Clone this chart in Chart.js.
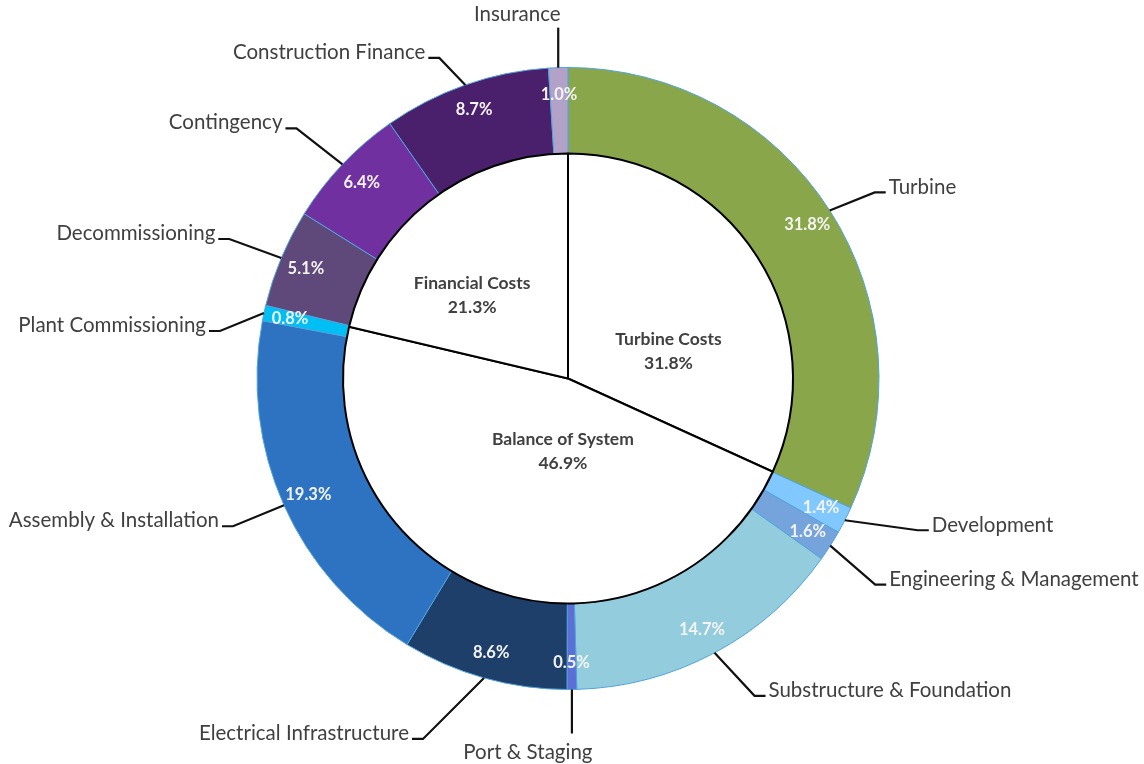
<!DOCTYPE html>
<html>
<head>
<meta charset="utf-8">
<script src="https://cdn.jsdelivr.net/npm/chart.js@4.4.0/dist/chart.umd.min.js"></script>
<style>
  html, body { margin: 0; padding: 0; background: #fff; }
  #wrap { width: 1144px; height: 764px; }
</style>
</head>
<body>
<div id="wrap"><canvas id="costChart"></canvas></div>
<script>
// outer ring: cost items (%)
const segLabels = ['Turbine', 'Development', 'Engineering & Management', 'Substructure & Foundation',
    'Port & Staging', 'Electrical Infrastructure', 'Assembly & Installation', 'Plant Commissioning',
    'Decommissioning', 'Contingency', 'Construction Finance', 'Insurance'];
const segValues = [31.8, 1.4, 1.6, 14.7, 0.5, 8.6, 19.3, 0.8, 5.1, 6.4, 8.7, 1.0];
const segColors = ['#8aa64a', '#80c8ff', '#75a3dc', '#93cddd', '#5b6fd6', '#1f3f6b',
    '#2e72c2', '#00bff5', '#5f497a', '#7030a0', '#4a1f6c', '#b3a2c7'];

// inner pie: cost groups (%)
const groupLabels = ['Turbine Costs', 'Balance of System', 'Financial Costs'];
const groupValues = [31.8, 46.9, 21.3];

// where each callout label sits relative to its slice edge (px)
const calloutOffsets = [
    {dx: 45, dy: -18, side: 'r'},
    {dx: 73, dy: 10, side: 'r'},
    {dx: 45, dy: 39, side: 'r'},
    {dx: 40, dy: 43, side: 'r'},
    {dx: 0, dy: 44, side: 'b', shift: -44},
    {dx: -61, dy: 61, side: 'l'},
    {dx: -51, dy: 21, side: 'l'},
    {dx: -44, dy: 18, side: 'l'},
    {dx: -52, dy: -19, side: 'l'},
    {dx: -46, dy: -36, side: 'l'},
    {dx: -26, dy: -27, side: 'l'},
    {dx: 0, dy: -40, side: 't', shift: -41}
];
// inner group label spots: [angle from top (deg), radius px]
const innerSpots = [[75, 104], [184, 73], [311, 127]];

const labelPlugin = {
    id: 'costLabels',
    afterDatasetsDraw(chart) {
        const ctx = chart.ctx;
        const ring = chart.getDatasetMeta(0).data;
        const pie = chart.getDatasetMeta(1).data;
        ctx.save();

        // percentages inside the ring
        ctx.font = 'bold 16.5px Lato';
        ctx.fillStyle = '#f4f4f4';
        ctx.textAlign = 'center';
        ctx.textBaseline = 'middle';
        ring.forEach((arc, i) => {
            const p = arc.getProps(['x', 'y', 'startAngle', 'endAngle', 'innerRadius', 'outerRadius'], true);
            const mid = (p.startAngle + p.endAngle) / 2;
            const r = p.innerRadius + 0.69 * (p.outerRadius - p.innerRadius);
            ctx.fillText(segValues[i].toFixed(1) + '%', p.x + Math.cos(mid) * r, p.y + Math.sin(mid) * r);
        });

        // callouts
        ctx.font = '20.5px Lato';
        ctx.fillStyle = '#404040';
        ctx.strokeStyle = '#111';
        ctx.lineWidth = 2.2;
        ring.forEach((arc, i) => {
            const p = arc.getProps(['x', 'y', 'startAngle', 'endAngle', 'outerRadius'], true);
            const mid = (p.startAngle + p.endAngle) / 2;
            const ax = p.x + Math.cos(mid) * p.outerRadius;
            const ay = p.y + Math.sin(mid) * p.outerRadius;
            const c = calloutOffsets[i];
            const ex = ax + c.dx, ey = ay + c.dy;
            ctx.beginPath();
            ctx.moveTo(ax, ay);
            ctx.lineTo(ex, ey);
            if (c.side === 'r') {
                ctx.lineTo(ex + 11, ey);
                ctx.stroke();
                ctx.textAlign = 'left';
                ctx.fillText(segLabels[i], ex + 14, ey - 5);
            } else if (c.side === 'l') {
                ctx.lineTo(ex - 11, ey);
                ctx.stroke();
                ctx.textAlign = 'right';
                ctx.fillText(segLabels[i], ex - 14, ey - 6);
            } else if (c.side === 't') {
                ctx.stroke();
                ctx.textAlign = 'center';
                ctx.fillText(segLabels[i], ex + c.shift, ey - 13);
            } else {
                ctx.stroke();
                ctx.textAlign = 'center';
                ctx.fillText(segLabels[i], ex + c.shift, ey + 19);
            }
        });

        // group labels in the middle
        ctx.font = 'bold 17.5px Lato';
        ctx.fillStyle = '#404040';
        ctx.textAlign = 'center';
        pie.forEach((arc, i) => {
            const a = innerSpots[i][0] * Math.PI / 180, r = innerSpots[i][1];
            const x = arc.x + Math.sin(a) * r, y = arc.y - Math.cos(a) * r;
            ctx.fillText(groupLabels[i], x, y - 12);
            ctx.fillText(groupValues[i].toFixed(1) + '%', x, y + 12);
        });
        ctx.restore();
    }
};

new Chart(document.getElementById('costChart'), {
    type: 'doughnut',
    data: {
        labels: segLabels,
        datasets: [{
            data: segValues,
            backgroundColor: segColors,
            borderColor: '#4fa3dc',
            borderWidth: 1,
            weight: 86,
            order: 1
        }, {
            labels: groupLabels,
            data: groupValues,
            backgroundColor: '#ffffff',
            borderColor: '#000000',
            borderWidth: 2,
            weight: 225,
            order: 0
        }]
    },
    options: {
        responsive: true,
        maintainAspectRatio: false,
        animation: false,
        cutout: 0,
        layout: { padding: { top: 67, bottom: 74, left: 0, right: 8 } },
        plugins: {
            legend: { display: false },
            tooltip: { enabled: false }
        }
    },
    plugins: [labelPlugin]
});
</script>
</body>
</html>
